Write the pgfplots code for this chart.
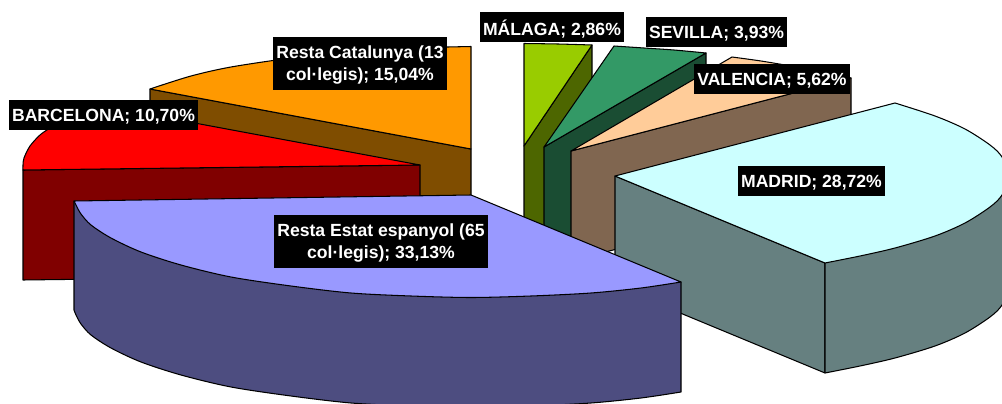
\documentclass[border=0pt]{standalone}
\usepackage{fontspec}
\setmainfont{Liberation Sans}
\usepackage{pgfplots}
\pgfplotsset{compat=1.18}
\definecolor{cOr}{HTML}{FF9900}\definecolor{sOr}{HTML}{7F4D00}
\definecolor{cRe}{HTML}{FF0000}\definecolor{sRe}{HTML}{800000}
\definecolor{cBl}{HTML}{9999FF}\definecolor{sBl}{HTML}{4D4D80}
\definecolor{cMa}{HTML}{CCFFFF}\definecolor{sMa}{HTML}{668080}
\definecolor{cVa}{HTML}{FFCC99}\definecolor{sVa}{HTML}{806650}
\definecolor{cSe}{HTML}{339966}\definecolor{sSe}{HTML}{1A4D33}
\definecolor{cMl}{HTML}{99CC00}\definecolor{sMl}{HTML}{4D6600}
\tikzset{box/.style={fill=black,inner sep=0pt,anchor=center},
 lab/.style={text=white,inner sep=0pt,align=center,anchor=center,
  font=\fontsize{17.6}{22.5}\selectfont\bfseries}}
\begin{document}
\begin{tikzpicture}[x=1pt,y=1pt]
\path[use as bounding box] (0,0) rectangle (1002pt,404pt);
\begin{axis}[at={(0,0)},anchor=south west,scale only axis,width=1002pt,height=404pt,
  xmin=0,xmax=1002,ymin=0,ymax=404,y dir=reverse,hide axis,clip=true,
  every axis plot/.append style={draw=black,line width=1.05pt,line join=round,mark=none}]
% Malaga
\addplot[fill=sMl] coordinates {(524,146)(592,45)(592,155)(524,256)} -- cycle;
\addplot[fill=cMl,smooth] coordinates {(524,43.5)(558,44)(592,45)} -- (axis cs:524,146) -- cycle;
% Sevilla
\addplot[fill=sSe] coordinates {(544,147)(706,53)(706,163)(544,257)} -- cycle;
\addplot[fill=cSe,smooth] coordinates {(614,46)(644,48)(674,50)(706,53)} -- (axis cs:544,147) -- cycle;
% Valencia
\addplot[fill=sVa] coordinates {(571,151)(851,78)(851,188)(571,261)} -- cycle;
\addplot[fill=cVa,smooth] coordinates {(732,57)(761,61)(791,66)(821,71)(851,78)} -- (axis cs:571,151) -- cycle;
% Resta Catalunya
\addplot[fill=sOr] coordinates {(150,89)(471,149)(471,259)(150,199)} -- cycle;
\addplot[fill=cOr,smooth] coordinates {(150,89)(191,76)(231,67)(291,58)(351,51)(411,48)(471,46.5)} -- (axis cs:471,149) -- cycle;
% Barcelona
\addplot[fill=sRe] coordinates {(23,170)(420,165)(420,275)(23,280)} -- cycle;
\addplot[fill=cRe,smooth] coordinates {(23,170)(23,165)(24,158)(30,146)(40,135)(50,128)(65,119)(80,112)(98,105)} -- (axis cs:420,165) -- cycle;
% Madrid
\addplot[fill=sMa] coordinates {(615,176)(825,263)(825,373)(615,286)} -- cycle;
\addplot[fill=sMa,smooth] coordinates {(825,373)(860,366)(895,358)(935,346)(965,333)(990,317)(1002,305)(1009,286)} -- (axis cs:1009,176) -- (axis cs:825,263) -- cycle;
\addplot[fill=cMa,smooth] coordinates {(895,103)(935,116)(965,129)(990,145)(1002,157)(1009,176)(1002,195)(990,207)(965,223)(935,236)(895,248)(860,256)(825,263)} -- (axis cs:615,176) -- cycle;
% Resta Estat espanyol
\addplot[fill=sBl,smooth] coordinates {(74,310)(76,315)(81,324)(91,335)(111,348)(141,362)(181,375)(231,387)(291,396)(351,403)(411,406)(471,407.5)(531,406)(591,403)(641,398)(681,392)} -- (axis cs:681,282) -- (axis cs:74,201) -- cycle;
\addplot[fill=cBl,smooth] coordinates {(74,201)(76,205)(81,214)(91,225)(111,238)(141,252)(181,265)(231,277)(291,286)(351,293)(411,296)(471,297.5)(531,296)(591,293)(641,288)(681,282)} -- (axis cs:471,195) -- cycle;
% labels
\node[box,minimum width=174pt,minimum height=53pt] at (axis cs:360,63.5) {};
\node[lab,yshift=-1.7pt] at (axis cs:360,63.5) {Resta Catalunya (13\\col·legis); 15,04\%};
\node[box,minimum width=189pt,minimum height=30pt] at (axis cs:103.5,115) {};
\node[lab,yshift=-2pt] at (axis cs:103.5,115) {BARCELONA; 10,70\%};
\node[box,minimum width=214pt,minimum height=53pt] at (axis cs:381,241.5) {};
\node[lab,yshift=-1.7pt] at (axis cs:381,241.5) {Resta Estat espanyol (65\\col·legis); 33,13\%};
\node[box,minimum width=144pt,minimum height=30pt] at (axis cs:552,27) {};
\node[lab,yshift=-2pt] at (axis cs:552,27) {MÁLAGA; 2,86\%};
\node[box,minimum width=141pt,minimum height=30pt] at (axis cs:716.5,32) {};
\node[lab,yshift=-2pt] at (axis cs:716.5,32) {SEVILLA; 3,93\%};
\node[box,minimum width=156pt,minimum height=30pt] at (axis cs:772,79) {};
\node[lab,yshift=-2pt] at (axis cs:772,79) {VALENCIA; 5,62\%};
\node[box,minimum width=147pt,minimum height=30pt] at (axis cs:811.5,181) {};
\node[lab,yshift=-2pt] at (axis cs:811.5,181) {MADRID; 28,72\%};
\end{axis}
\end{tikzpicture}
\end{document}
